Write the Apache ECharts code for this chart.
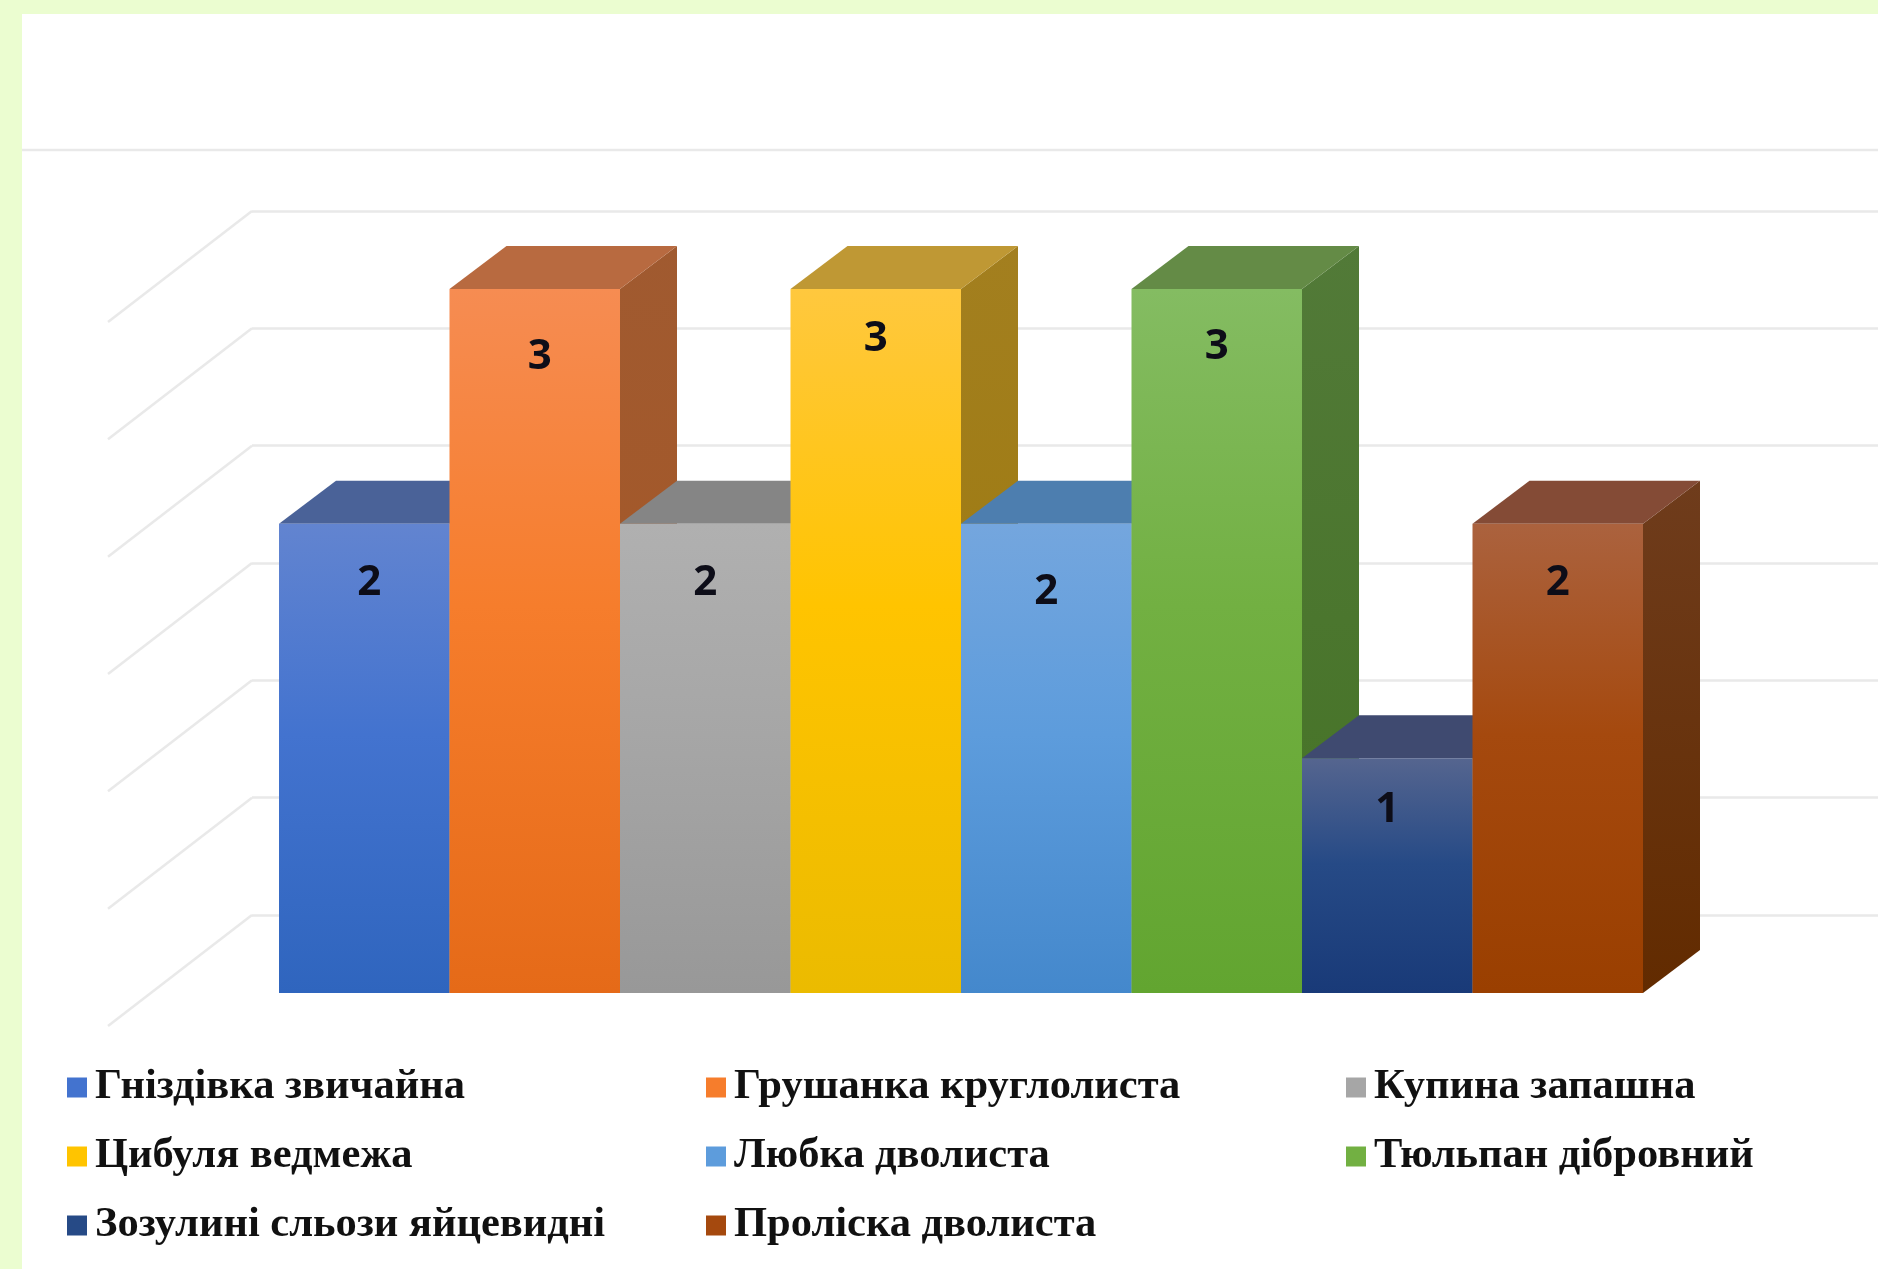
<!DOCTYPE html>
<html><head><meta charset="utf-8">
<style>html,body{margin:0;padding:0;background:#ebfdd0}#c{width:1878px;height:1269px}</style>
<script src="https://cdn.jsdelivr.net/npm/echarts@6/dist/echarts.min.js"></script>
</head><body><div id="c"></div>
<script>
const species = ['Гніздівка звичайна','Грушанка круглолиста','Купина запашна','Цибуля ведмежа','Любка дволиста','Тюльпан дібровний','Зозулині сльози яйцевидні','Проліска дволиста'];
const counts = [2,3,2,3,2,3,1,2];
const gridTicks = [0,0.5,1,1.5,2,2.5,3];
const legendColumns = [[0,3,6],[1,4,7],[2,5]];

// [front top, front mid, front bottom, top face, side face top, side face bottom]
const palette = [
  ['#6284d0','#4373cf','#2f65be','#4a6298','#3e5f99','#2f4f86'],
  ['#f68c52','#f67d2c','#e56a18','#b86a40','#a05a30','#a85722'],
  ['#b0b0b0','#a6a6a6','#989898','#858585','#7b7b7b','#6f6f6f'],
  ['#ffc83e','#ffc400','#ebbb00','#bf9834','#a37f1f','#9a7808'],
  ['#74a6de','#5d9cdc','#4488cc','#4d7eaf','#42709c','#36618a'],
  ['#84bc62','#72b042','#62a530','#648b46','#527a38','#447224'],
  ['#55658f','#264a86','#193a78','#3f4a70','#2e3a5c','#1b2c52'],
  ['#ab623e','#a5490e','#9a3f00','#844b36','#6f3c1c','#622b00']
];
const labelShift = [[5,59],[5,68],[0,59],[0,50],[0,68],[0,58],[0,52],[0,59]];
const DEPTH_X = 57, DEPTH_Y = 43;
const WALL_X = 144, WALL_Y = 111;
const vGrad = (a,b,c)=>({type:'linear',x:0,y:0,x2:0,y2:1,colorStops:c===undefined?[{offset:0,color:a},{offset:1,color:b}]:[{offset:0,color:a},{offset:0.45,color:b},{offset:1,color:c}]});

function barRender(i){
  return function(params, api){
    const top = api.coord([api.value(0), api.value(1)]);
    const base = api.coord([api.value(0), 0]);
    const w = api.size([1,0])[0];
    const l = top[0]-w/2, r = top[0]+w/2, t = top[1], b = base[1];
    const c = palette[i];
    return {type:'group',children:[
      {type:'polygon',shape:{points:[[r,t],[r+DEPTH_X,t-DEPTH_Y],[r+DEPTH_X,b-DEPTH_Y],[r,b]]},style:{fill:vGrad(c[4],c[5])}},
      {type:'polygon',shape:{points:[[l,t],[r,t],[r+DEPTH_X,t-DEPTH_Y],[l+DEPTH_X,t-DEPTH_Y]]},style:{fill:c[3]}},
      {type:'rect',shape:{x:l,y:t,width:w,height:b-t},style:{fill:vGrad(c[0],c[1],c[2])}},
      {type:'text',x:top[0]+labelShift[i][0],y:t+labelShift[i][1],style:{text:String(api.value(1)),fill:'#0d0d18',font:'bold 42px "Open Sans"',textAlign:'center',textVerticalAlign:'middle'}}
    ]};
  };
}

const series = [{
  type:'custom',name:'wall',xAxisIndex:0,yAxisIndex:0,silent:true,z:1,
  data:gridTicks.map(v=>[0,v]),encode:{x:0,y:1},
  renderItem(p,api){
    const a = api.coord([0,api.value(1)]);
    return {type:'line',shape:{x1:a[0],y1:a[1],x2:a[0]-WALL_X,y2:a[1]+WALL_Y},style:{stroke:'#e9e9e9',lineWidth:2.5}};
  }
}];
species.forEach((s,i)=>series.push({
  type:'custom',name:s,xAxisIndex:1,yAxisIndex:1,z:2+i,silent:true,
  itemStyle:{color:palette[i][1]},
  data:[[s,counts[i]]],encode:{x:0,y:1},renderItem:barRender(i)
}));

const legendLeft = [62,701,1341];
const option = {
  animation:false,
  backgroundColor:'#ebfdd0',
  graphic:[
    {type:'rect',z:-10,shape:{x:22,y:14,width:1856,height:1255},style:{fill:'#ffffff'}},
    {type:'line',z:-5,shape:{x1:22,y1:150,x2:1878,y2:150},style:{stroke:'#e9e9e9',lineWidth:2.5}}
  ],
  grid:[
    {left:252,top:211,width:1626,height:704},
    {left:279,top:289,width:1364,height:704}
  ],
  xAxis:[
    {gridIndex:0,type:'value',min:0,max:1,axisLine:{show:false},axisTick:{show:false},axisLabel:{show:false},splitLine:{show:false}},
    {gridIndex:1,type:'category',data:species,axisLine:{show:false},axisTick:{show:false},axisLabel:{show:false},splitLine:{show:false}}
  ],
  yAxis:[
    {gridIndex:0,type:'value',min:0,max:3,interval:0.5,axisLine:{show:false},axisTick:{show:false},axisLabel:{show:false},splitLine:{show:true,lineStyle:{color:'#e9e9e9',width:2.5}}},
    {gridIndex:1,type:'value',min:0,max:3,interval:0.5,axisLine:{show:false},axisTick:{show:false},axisLabel:{show:false},splitLine:{show:false}}
  ],
  legend:legendColumns.map((col,k)=>({
    orient:'vertical',left:legendLeft[k],top:1061,height:240,
    itemWidth:20,itemHeight:20,itemGap:26,icon:'rect',selectedMode:false,
    data:col.map(j=>species[j]),
    textStyle:{fontFamily:'Liberation Serif',fontWeight:'bold',fontSize:42.5,color:'#111',padding:[0,0,0,3]}
  })),
  series
};
echarts.init(document.getElementById('c')).setOption(option);
</script></body></html>
